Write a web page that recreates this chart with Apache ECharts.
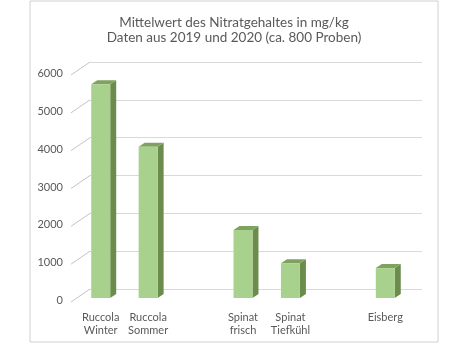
<!DOCTYPE html>
<html>
<head>
<meta charset="utf-8">
<script src="https://cdn.jsdelivr.net/npm/echarts@6/dist/echarts.min.js"></script>
<style>
  html, body { margin: 0; padding: 0; background: #fff; }
  #chart { width: 468px; height: 345px; }
</style>
</head>
<body>
<div id="chart"></div>
<script>
// categories (empty slots are gaps between groups)
const categories = ["Ruccola\nWinter", "Ruccola\nSommer", "", "Spinat\nfrisch", "Spinat\nTiefkühl", "", "Eisberg"];
const nitrat = [5650, 4000, null, 1800, 920, null, 790];
const yTicks = [0, 1000, 2000, 3000, 4000, 5000, 6000];

const FONT = "Lato";
const TEXT = "#595959";
// 3D look: front face sits in front of the back wall
const FRONT_DX = -13, FRONT_DY = 9;
const SIDE_DX = 6, SIDE_DY = -4;

const chart = echarts.init(document.getElementById("chart"));

function renderBar(params, api) {
  const v = api.value(1);
  if (v == null || isNaN(v)) return;
  const base = api.coord([api.value(0), 0]);
  const top = api.coord([api.value(0), v]);
  const w = api.size([1, 0])[0] * 0.4;
  const x0 = base[0] - w / 2 + FRONT_DX;
  const x1 = x0 + w;
  const yb = base[1] + FRONT_DY;
  const yt = top[1] + FRONT_DY;
  return {
    type: "group",
    children: [
      { type: "polygon", shape: { points: [[x1, yb], [x1, yt], [x1 + SIDE_DX, yt + SIDE_DY], [x1 + SIDE_DX, yb + SIDE_DY]] },
        style: { fill: "#6c8c4e" } },
      { type: "polygon", shape: { points: [[x0, yt], [x1, yt], [x1 + SIDE_DX, yt + SIDE_DY], [x0 + SIDE_DX, yt + SIDE_DY]] },
        style: { fill: "#7fa25e" } },
      { type: "rect", shape: { x: x0, y: yt, width: w, height: yb - yt },
        style: { fill: "#a9d18e" } }
    ]
  };
}

chart.setOption({
  animation: false,
  backgroundColor: "#fff",
  title: {
    text: "Mittelwert des Nitratgehaltes in mg/kg\nDaten aus 2019 und 2020 (ca. 800 Proben)",
    left: "center",
    top: 10,
    textStyle: { fontFamily: FONT, fontSize: 13.5, fontWeight: "normal", color: TEXT, lineHeight: 15 }
  },
  grid: { left: 90, right: 46, top: 62, bottom: 56 },
  xAxis: {
    type: "category",
    data: categories,
    axisLine: { show: false },
    axisTick: { show: false },
    axisLabel: {
      interval: 0, margin: 22, padding: [0, 26, 0, 0],
      fontFamily: FONT, fontSize: 11, lineHeight: 13, color: TEXT
    }
  },
  yAxis: {
    type: "value",
    min: 0, max: 6000, interval: 1000,
    axisLine: { show: false },
    axisTick: { show: false },
    splitLine: { lineStyle: { color: "#d9d9d9" } },
    axisLabel: {
      margin: 27, verticalAlign: "top", padding: [6, 0, 0, 0],
      formatter: v => String(v),
      fontFamily: FONT, fontSize: 11, color: TEXT
    }
  },
  series: [
    {
      type: "custom",
      name: "Nitrat",
      renderItem: renderBar,
      data: nitrat.map((v, i) => [i, v]),
      encode: { x: 0, y: 1 },
      clip: false
    }
  ]
});

// frame plus slanted floor lines joining each tick label to its gridline, placed via the axis scales
const graphics = [{
  id: "frame",
  type: "rect",
  shape: { x: 30, y: 1, width: 408, height: 341 },
  style: { fill: "transparent", stroke: "#d0d0d0", lineWidth: 1 },
  silent: true
}];
yTicks.forEach((t, i) => {
  const a = chart.convertToPixel({ xAxisIndex: 0, yAxisIndex: 0 }, [0, t]);
  const b = chart.convertToPixel({ xAxisIndex: 0, yAxisIndex: 0 }, [1, t]);
  const left = a[0] - (b[0] - a[0]) / 2;
  graphics.push({
    id: "floor" + i,
    type: "polyline",
    shape: { points: [[left - 19, a[1] + 13], [left, a[1]]] },
    style: { stroke: "#c4c4c4", lineWidth: 1, fill: "transparent" },
    silent: true,
    z: 10
  });
});
chart.setOption({ graphic: graphics });
</script>
</body>
</html>
